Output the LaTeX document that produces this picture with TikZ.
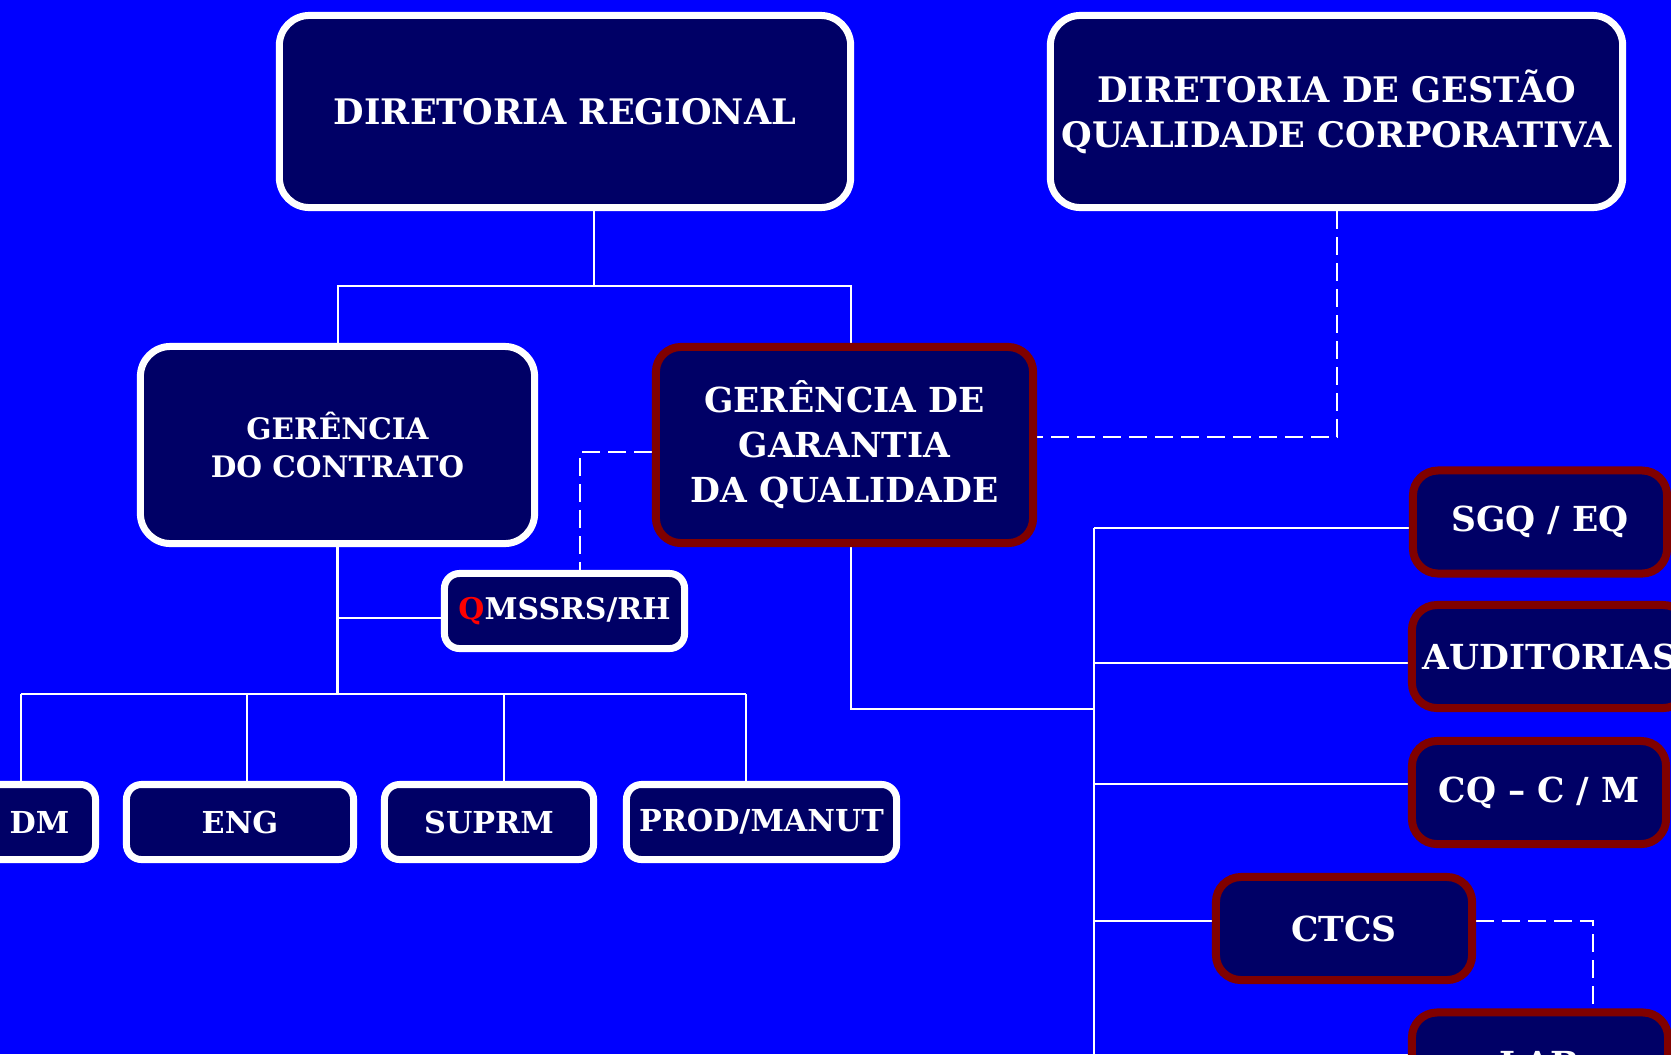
\documentclass[tikz,border=0pt]{standalone}
\usepackage{fontspec}
\setmainfont{DejaVu Serif}
\definecolor{bgblue}{RGB}{0,0,255}
\definecolor{navy}{RGB}{0,0,102}
\definecolor{boxred}{RGB}{128,0,0}
\definecolor{qred}{RGB}{255,0,0}
\pgfdeclarelayer{back}
\pgfsetlayers{back,main}

\begin{document}
\begin{tikzpicture}[x=0.01cm,y=-0.01cm,
  box/.style={draw=white,line width=0.07cm,fill=navy,rounded corners=0.3cm,
    text=white,align=center,inner sep=0pt},
  redbox/.style={box,draw=boxred,line width=0.08cm,rounded corners=0.25cm},
  smallbox/.style={box,rounded corners=0.15cm,minimum height=0.75cm,
    font=\fontsize{8.6}{10}\selectfont\bfseries},
  sidebox/.style={redbox,minimum height=1.03cm,
    font=\fontsize{9.8}{12}\selectfont\bfseries},
  link/.style={white,line width=0.025cm},
  dashlink/.style={link,dash pattern=on 0.18cm off 0.08cm}]
  \useasboundingbox (0,0) rectangle (1671,1054);
  \clip (0,0) rectangle (1671,1054);
  \begin{pgfonlayer}{back}
    \fill[bgblue] (0,0) rectangle (1671,1054);
  \end{pgfonlayer}

  % top level
  \node[box,minimum width=5.71cm,minimum height=1.92cm,
    font=\fontsize{10}{12.8}\selectfont\bfseries] (dr) at (565,111.5) {DIRETORIA REGIONAL};
  \node[box,minimum width=5.72cm,minimum height=1.92cm,
    font=\fontsize{10}{12.8}\selectfont\bfseries] (dgqc) at (1336.5,111.5)
    {DIRETORIA DE GESTÃO\\QUALIDADE CORPORATIVA};

  % managers
  \node[box,minimum width=3.94cm,minimum height=1.97cm,
    font=\fontsize{8.4}{10.9}\selectfont\bfseries] (gc) at (337.5,445) {GERÊNCIA\\DO CONTRATO};
  \node[redbox,minimum width=3.77cm,minimum height=1.96cm,
    font=\fontsize{9.8}{12.8}\selectfont\bfseries] (ggq) at (844.5,445)
    {GERÊNCIA DE\\GARANTIA\\DA QUALIDADE};
  \node[smallbox,minimum width=2.40cm,font=\fontsize{8.5}{10}\selectfont\bfseries] (qms)
    at (564.5,611) {\textcolor{qred}{Q}MSSRS/RH};

  % contract areas
  \node[smallbox,minimum width=1.12cm] (dm) at (39.5,822) {DM};
  \node[smallbox,minimum width=2.27cm] (eng) at (240,822) {ENG};
  \node[smallbox,minimum width=2.09cm] (suprm) at (489,822) {SUPRM};
  \node[smallbox,minimum width=2.70cm] (prod) at (761.5,822) {PROD/MANUT};

  % quality areas
  \node[sidebox,minimum width=2.54cm] (sgq) at (1540,522) {SGQ / EQ};
  \node[sidebox,minimum width=2.76cm] (aud) at (1550,656.5) {AUDITORIAS};
  \node[sidebox,minimum width=2.54cm] (cq) at (1539,792.5) {CQ -- C / M};
  \node[sidebox,minimum width=2.56cm] (ctcs) at (1344,928.5) {CTCS};
  \node[sidebox,minimum width=2.56cm] (lab) at (1540,1064) {LAB};

  \coordinate (b1) at (338,286);
  \coordinate (b2) at (851,286);
  \coordinate (c1) at (21,694);
  \coordinate (c2) at (746,694);
  \coordinate (q1) at (851,709);
  \coordinate (q2) at (1094,709);
  \coordinate (qtop) at (1094,528);
  \coordinate (qend) at (1094,1054);

  \begin{pgfonlayer}{back}
    \draw[link] (dr.south -| 594,0) -- (594,286);
    \draw[link] (gc.north -| b1) -- (b1) -- (b2) -- (ggq.north -| b2);
    \draw[dashlink] (dgqc.south -| 1337,0) |- (ggq.east |- 0,437);
    \draw[dashlink] (ggq.west |- 0,452) -| (qms.north -| 580,0);
    \draw[link] (gc.south) -- (gc.south |- c1);
    \draw[link] (gc.south |- 0,618) -- (qms.west |- 0,618);
    \draw[link] (c1) -- (c2);
    \draw[link] (c1) -- (dm.north -| c1);
    \draw[link] (eng.north -| 247,0) -- (247,694);
    \draw[link] (suprm.north -| 504,0) -- (504,694);
    \draw[link] (c2) -- (prod.north -| c2);
    \draw[link] (ggq.south -| q1) -- (q1) -- (q2);
    \draw[link] (qtop) -- (qend);
    \draw[link] (qtop) -- (sgq.west |- qtop);
    \draw[link] (qtop |- 0,663) -- (aud.west |- 0,663);
    \draw[link] (qtop |- 0,784) -- (cq.west |- 0,784);
    \draw[link] (qtop |- 0,921) -- (ctcs.west |- 0,921);
    \draw[dashlink] (ctcs.east |- 0,921) -| (lab.north -| 1593,0);
  \end{pgfonlayer}
\end{tikzpicture}
\end{document}
